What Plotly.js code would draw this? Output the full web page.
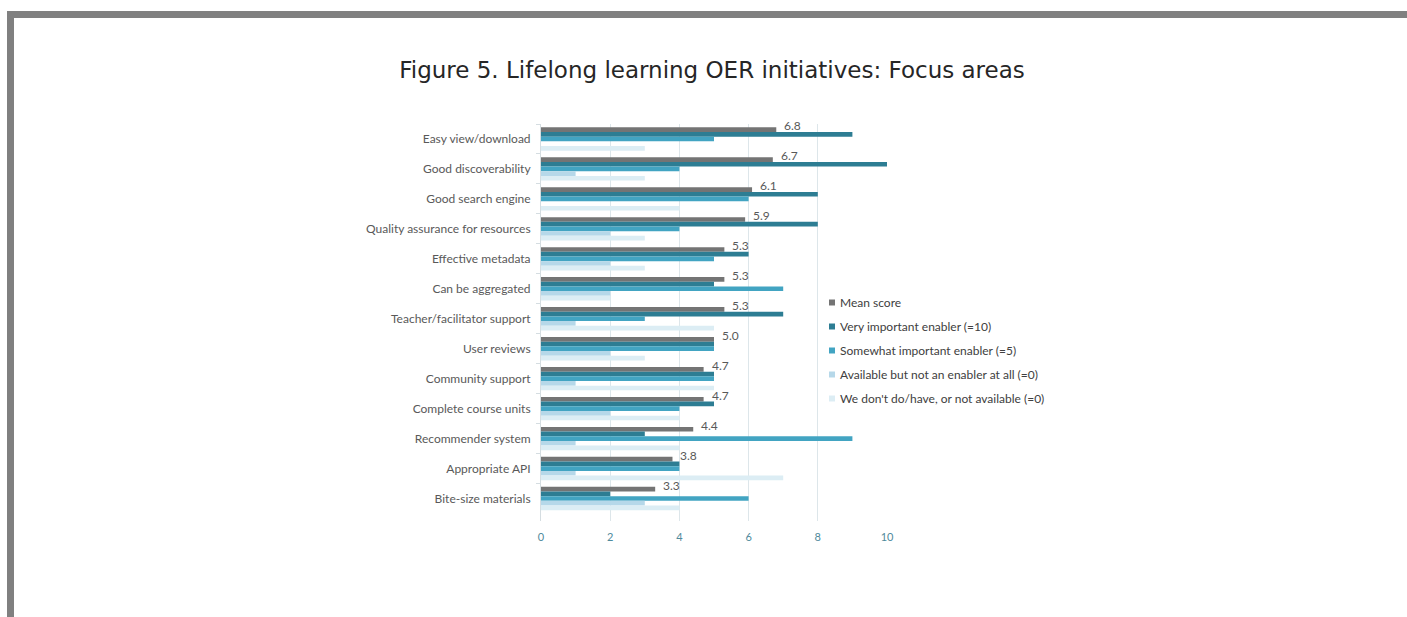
<!DOCTYPE html>
<html>
<head>
<meta charset="utf-8">
<script src="https://cdn.plot.ly/plotly-3.0.1.min.js"></script>
<style>
  html, body { margin: 0; padding: 0; background: #ffffff; }
  #wrap { position: relative; width: 1407px; height: 617px; overflow: hidden; }
  #chart { position: absolute; left: 0; top: 0; width: 1407px; height: 617px; }
  #frame { position: absolute; left: 7px; top: 11px; width: 1400px; height: 606px;
           border-top: 7px solid #808080; border-left: 7px solid #808080; box-sizing: border-box; pointer-events: none; }
</style>
</head>
<body>
<div id="wrap">
  <div id="chart"></div>
  <div id="frame"></div>
</div>
<script>
const categories = [
  "Easy view/download",
  "Good discoverability",
  "Good search engine",
  "Quality assurance for resources",
  "Effective metadata",
  "Can be aggregated",
  "Teacher/facilitator support",
  "User reviews",
  "Community support",
  "Complete course units",
  "Recommender system",
  "Appropriate API",
  "Bite-size materials"
];
const meanScore     = [6.8, 6.7, 6.1, 5.9, 5.3, 5.3, 5.3, 5.0, 4.7, 4.7, 4.4, 3.8, 3.3];
const veryImportant = [9, 10, 8, 8, 6, 5, 7, 5, 5, 5, 3, 4, 2];
const somewhatImp   = [5, 4, 6, 4, 5, 7, 3, 5, 5, 4, 9, 4, 6];
const availableNot  = [0, 1, 0, 2, 2, 2, 1, 2, 1, 2, 1, 1, 3];
const notAvailable  = [3, 3, 4, 3, 3, 2, 5, 3, 5, 4, 4, 7, 4];
const meanLabels    = ["6.8", "6.7", "6.1", "5.9", "5.3", "5.3", "5.3", "5.0", "4.7", "4.7", "4.4", "3.8", "3.3"];
const seriesNames = [
  "Mean score",
  "Very important enabler (=10)",
  "Somewhat important enabler (=5)",
  "Available but not an enabler at all (=0)",
  "We don't do/have, or not available (=0)"
];
const xTicks = [0, 2, 4, 6, 8, 10];

const colors = ["#747474", "#2d7d93", "#42a4c2", "#b6d8e9", "#dcedf4"];
const seriesData = [meanScore, veryImportant, somewhatImp, availableNot, notAvailable];

const traces = [];
seriesData.forEach((vals, i) => {
  traces.push({
    type: "bar",
    orientation: "h",
    x: vals,
    y: categories,
    name: seriesNames[i],
    marker: { color: colors[i], line: { width: 0 } },
    showlegend: false,
    hoverinfo: "x+name"
  });
});
// legend entries with small square markers
seriesNames.forEach((nm, i) => {
  traces.push({
    type: "scatter",
    mode: "markers",
    x: [null],
    y: [null],
    name: nm,
    legendgroup: "g" + i,
    marker: { symbol: "square", size: 6, color: colors[i] },
    showlegend: true,
    hoverinfo: "skip"
  });
});

const annotations = categories.map((c, i) => ({
  x: meanScore[i],
  y: c,
  xref: "x",
  yref: "y",
  text: meanLabels[i],
  showarrow: false,
  xanchor: "left",
  yanchor: "middle",
  xshift: 6,
  yshift: 13,
  font: { family: "Lato, 'Open Sans', sans-serif", size: 12, color: "#595959" }
}));

const W = 1407, H = 617;
const layout = {
  width: W,
  height: H,
  paper_bgcolor: "rgba(0,0,0,0)",
  plot_bgcolor: "rgba(0,0,0,0)",
  margin: { l: 541, r: W - 887, t: 124, b: H - 521, pad: 0, autoexpand: false },
  title: {
    text: "Figure 5. Lifelong learning OER initiatives: Focus areas",
    font: { family: "'DejaVu Sans', Verdana, sans-serif", size: 23, color: "#262626" },
    xref: "container", yref: "container",
    x: 712 / W, xanchor: "center",
    y: 1 - 70 / H, yanchor: "middle"
  },
  barmode: "group",
  bargap: 0.22,
  bargroupgap: 0,
  xaxis: {
    range: [0, 10],
    tickvals: xTicks,
    ticktext: xTicks.map(String),
    showgrid: true,
    gridcolor: "#dde6ea",
    gridwidth: 1,
    zeroline: false,
    showline: false,
    ticks: "",
    ticklabelstandoff: 8,
    tickfont: { family: "Lato, 'Open Sans', sans-serif", size: 11, color: "#4f8a9c" },
    fixedrange: true
  },
  yaxis: {
    type: "category",
    autorange: "reversed",
    tickson: "boundaries",
    ticks: "outside",
    ticklen: 4,
    tickcolor: "#d5dde1",
    showgrid: false,
    showline: true,
    linecolor: "#d5dde1",
    linewidth: 1,
    zeroline: false,
    tickfont: { family: "Lato, 'Open Sans', sans-serif", size: 12, color: "#595959" },
    ticklabelstandoff: 7,
    fixedrange: true
  },
  showlegend: true,
  legend: {
    x: 800 / W, xref: "container", xanchor: "left",
    y: 1 - 288 / H, yref: "container", yanchor: "top",
    bgcolor: "rgba(0,0,0,0)",
    borderwidth: 0,
    font: { family: "Lato, 'Open Sans', sans-serif", size: 12, color: "#404040" },
    itemwidth: 30,
    tracegroupgap: 5,
    traceorder: "grouped"
  },
  annotations: annotations
};

Plotly.newPlot("chart", traces, layout, { displayModeBar: false, staticPlot: true }).then(() => {
  // nudge legend squares closer to their labels
  document.querySelectorAll("#chart .legend .traces .legendpoints").forEach(g => {
    g.setAttribute("transform", "translate(12,0)");
  });
});
</script>
</body>
</html>
